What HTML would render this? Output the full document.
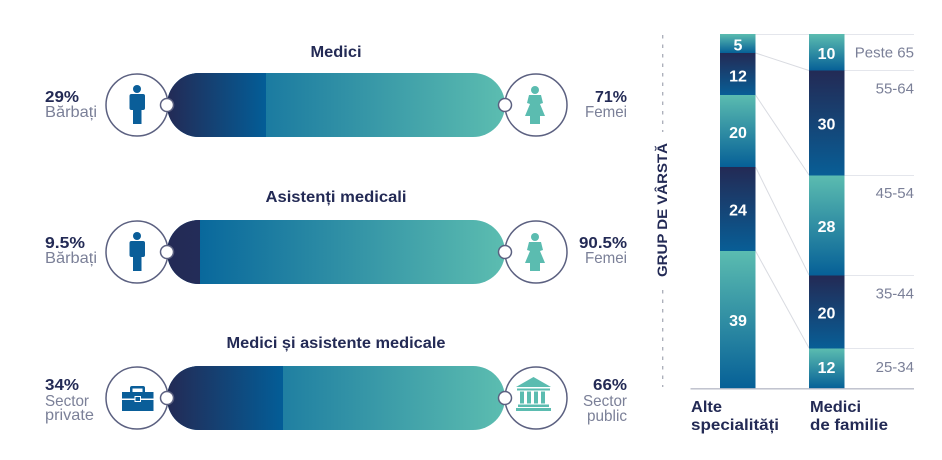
<!DOCTYPE html>
<html><head><meta charset="utf-8"><style>
html,body{margin:0;padding:0;background:#fff;}
svg{display:block;}
text{font-family:"Liberation Sans",sans-serif;}
.t{font-weight:bold;fill:#232a55;font-size:16px;}
.g{fill:#7b8098;font-size:16px;}
.w{fill:#fff;font-weight:bold;font-size:16px;text-anchor:middle;}
.a{fill:#7b8098;font-size:15px;text-anchor:end;}
</style></head><body>
<svg width="942" height="460" viewBox="0 0 942 460" xmlns="http://www.w3.org/2000/svg">
<defs>
<linearGradient id="dk" x1="0" y1="0" x2="1" y2="0"><stop offset="0" stop-color="#232a55"/><stop offset="1" stop-color="#035d97"/></linearGradient>
<linearGradient id="dk2" x1="0" y1="0" x2="1" y2="0"><stop offset="0" stop-color="#232a55"/><stop offset="1" stop-color="#232c58"/></linearGradient>
<linearGradient id="lt" gradientUnits="userSpaceOnUse" x1="167" y1="0" x2="505" y2="0"><stop offset="0" stop-color="#005f9a"/><stop offset="1" stop-color="#5cbdb0"/></linearGradient>
<linearGradient id="vt" x1="0" y1="0" x2="0" y2="1"><stop offset="0" stop-color="#5bbcb0"/><stop offset="1" stop-color="#066097"/></linearGradient>
<linearGradient id="vd" x1="0" y1="0" x2="0" y2="1"><stop offset="0" stop-color="#232a55"/><stop offset="1" stop-color="#085e96"/></linearGradient>
<clipPath id="c1"><rect x="167" y="73" width="338" height="64" rx="32"/></clipPath>
<clipPath id="c2"><rect x="167" y="220" width="338" height="64" rx="32"/></clipPath>
<clipPath id="c3"><rect x="167" y="366" width="338" height="64" rx="32"/></clipPath>
</defs>

<!-- Row 1 -->
<text class="t" x="336" y="57" text-anchor="middle" textLength="51" lengthAdjust="spacingAndGlyphs">Medici</text>
<g clip-path="url(#c1)">
<rect x="167" y="73" width="338" height="64" fill="url(#lt)"/>
<rect x="167" y="73" width="99" height="64" fill="url(#dk)"/>
</g>
<circle cx="137" cy="105" r="31" fill="#fff" stroke="#5b6080" stroke-width="1.5"/>
<circle cx="536" cy="105" r="31" fill="#fff" stroke="#5b6080" stroke-width="1.5"/>
<circle cx="167" cy="105" r="6.5" fill="#fff" stroke="#5b6080" stroke-width="1.5"/>
<circle cx="505" cy="105" r="6.5" fill="#fff" stroke="#5b6080" stroke-width="1.5"/>
<g fill="#0a5e99">
<circle cx="137" cy="89" r="4"/>
<rect x="129.5" y="94" width="15.5" height="16" rx="2"/>
<rect x="133" y="108" width="8.5" height="16"/>
</g>
<g fill="#5bbcb0">
<circle cx="535" cy="90" r="4"/>
<polygon points="529,95 541,95 543,103 540,104 545,116 540,116 540,124 530,124 530,116 525,116 530,104 527,103"/>
</g>
<text class="t" x="45" y="102" textLength="34" lengthAdjust="spacingAndGlyphs">29%</text>
<text class="g" x="45" y="117" textLength="52" lengthAdjust="spacingAndGlyphs">Bărbați</text>
<text class="t" x="627" y="102" text-anchor="end" textLength="32" lengthAdjust="spacingAndGlyphs">71%</text>
<text class="g" x="627" y="117" text-anchor="end" textLength="42" lengthAdjust="spacingAndGlyphs">Femei</text>

<!-- Row 2 -->
<text class="t" x="336" y="202" text-anchor="middle" textLength="141" lengthAdjust="spacingAndGlyphs">Asistenți medicali</text>
<g clip-path="url(#c2)">
<rect x="167" y="220" width="338" height="64" fill="url(#lt)"/>
<rect x="167" y="220" width="33" height="64" fill="url(#dk2)"/>
</g>
<circle cx="137" cy="252" r="31" fill="#fff" stroke="#5b6080" stroke-width="1.5"/>
<circle cx="536" cy="252" r="31" fill="#fff" stroke="#5b6080" stroke-width="1.5"/>
<circle cx="167" cy="252" r="6.5" fill="#fff" stroke="#5b6080" stroke-width="1.5"/>
<circle cx="505" cy="252" r="6.5" fill="#fff" stroke="#5b6080" stroke-width="1.5"/>
<g fill="#0a5e99">
<circle cx="137" cy="236" r="4"/>
<rect x="129.5" y="241" width="15.5" height="16" rx="2"/>
<rect x="133" y="255" width="8.5" height="16"/>
</g>
<g fill="#5bbcb0">
<circle cx="535" cy="237" r="4"/>
<polygon points="529,242 541,242 543,250 540,251 545,263 540,263 540,271 530,271 530,263 525,263 530,251 527,250"/>
</g>
<text class="t" x="45" y="248" textLength="40" lengthAdjust="spacingAndGlyphs">9.5%</text>
<text class="g" x="45" y="263" textLength="52" lengthAdjust="spacingAndGlyphs">Bărbați</text>
<text class="t" x="627" y="248" text-anchor="end" textLength="48" lengthAdjust="spacingAndGlyphs">90.5%</text>
<text class="g" x="627" y="263" text-anchor="end" textLength="42" lengthAdjust="spacingAndGlyphs">Femei</text>

<!-- Row 3 -->
<text class="t" x="336" y="348" text-anchor="middle" textLength="219" lengthAdjust="spacingAndGlyphs">Medici și asistente medicale</text>
<g clip-path="url(#c3)">
<rect x="167" y="366" width="338" height="64" fill="url(#lt)"/>
<rect x="167" y="366" width="116" height="64" fill="url(#dk)"/>
</g>
<circle cx="137" cy="398" r="31" fill="#fff" stroke="#5b6080" stroke-width="1.5"/>
<circle cx="536" cy="398" r="31" fill="#fff" stroke="#5b6080" stroke-width="1.5"/>
<circle cx="167" cy="398" r="6.5" fill="#fff" stroke="#5b6080" stroke-width="1.5"/>
<circle cx="505" cy="398" r="6.5" fill="#fff" stroke="#5b6080" stroke-width="1.5"/>
<g fill="#0a5e99">
<path d="M130,392 v-4 a2,2 0 0 1 2,-2 h11 a2,2 0 0 1 2,2 v4 h-2.5 v-3.5 h-10 v3.5 z"/>
<rect x="122" y="392" width="31.5" height="6.5"/>
<rect x="122" y="400" width="31.5" height="11"/>
<rect x="135" y="396.5" width="5.5" height="5" fill="#0a5e99" stroke="#fff" stroke-width="1"/>
</g>
<g fill="#5bbcb0">
<polygon points="533.5,377 551,387 516,387"/>
<rect x="517" y="388.5" width="33" height="2"/>
<rect x="520" y="391.5" width="4" height="12"/>
<rect x="527" y="391.5" width="4" height="12"/>
<rect x="534" y="391.5" width="4" height="12"/>
<rect x="541" y="391.5" width="4" height="12"/>
<rect x="518" y="404.5" width="31" height="2.5"/>
<rect x="516" y="408" width="35" height="3"/>
</g>
<text class="t" x="45" y="390" textLength="34" lengthAdjust="spacingAndGlyphs">34%</text>
<text class="g" x="45" y="406" textLength="44" lengthAdjust="spacingAndGlyphs">Sector</text>
<text class="g" x="45" y="420" textLength="49" lengthAdjust="spacingAndGlyphs">private</text>
<text class="t" x="627" y="390" text-anchor="end" textLength="34" lengthAdjust="spacingAndGlyphs">66%</text>
<text class="g" x="627" y="406" text-anchor="end" textLength="44" lengthAdjust="spacingAndGlyphs">Sector</text>
<text class="g" x="627" y="421" text-anchor="end" textLength="40" lengthAdjust="spacingAndGlyphs">public</text>

<!-- Right chart -->
<line x1="662.7" y1="35" x2="662.7" y2="132" stroke="#a9acb8" stroke-width="1.3" stroke-dasharray="3.5,6"/>
<line x1="662.7" y1="290" x2="662.7" y2="387" stroke="#a9acb8" stroke-width="1.3" stroke-dasharray="3.5,6"/>
<text class="t" transform="translate(667,277) rotate(-90)" textLength="134" lengthAdjust="spacingAndGlyphs" style="font-size:14px">GRUP DE VÂRSTĂ</text>

<g stroke="#e4e6ec" stroke-width="1">
<line x1="755" y1="34.5" x2="914" y2="34.5"/>
<line x1="844" y1="70.5" x2="914" y2="70.5"/>
<line x1="844" y1="175.5" x2="914" y2="175.5"/>
<line x1="844" y1="275.5" x2="914" y2="275.5"/>
<line x1="844" y1="348.5" x2="914" y2="348.5"/>
</g>
<g stroke="#d9dbe1" stroke-width="1">
<line x1="755.5" y1="53" x2="809" y2="70.5"/>
<line x1="755.5" y1="95" x2="809" y2="175"/>
<line x1="755.5" y1="167" x2="809" y2="275"/>
<line x1="755.5" y1="251" x2="809" y2="348"/>
</g>

<!-- bar 1 -->
<rect x="720" y="34" width="35.5" height="19" fill="url(#vt)"/>
<rect x="720" y="53" width="35.5" height="42" fill="url(#vd)"/>
<rect x="720" y="95" width="35.5" height="72" fill="url(#vt)"/>
<rect x="720" y="167" width="35.5" height="84" fill="url(#vd)"/>
<rect x="720" y="251" width="35.5" height="137.5" fill="url(#vt)"/>
<!-- bar 2 -->
<rect x="809" y="34" width="35.5" height="36.5" fill="url(#vt)"/>
<rect x="809" y="70.5" width="35.5" height="105" fill="url(#vd)"/>
<rect x="809" y="175.5" width="35.5" height="100" fill="url(#vt)"/>
<rect x="809" y="275.5" width="35.5" height="73" fill="url(#vd)"/>
<rect x="809" y="348.5" width="35.5" height="40" fill="url(#vt)"/>

<line x1="690.5" y1="388.8" x2="914" y2="388.8" stroke="#b9bcc8" stroke-width="1.3"/>

<text class="w" x="738" y="50.5">5</text>
<text class="w" x="738" y="81.5">12</text>
<text class="w" x="738" y="138">20</text>
<text class="w" x="738" y="215.5">24</text>
<text class="w" x="738" y="326">39</text>
<text class="w" x="826.5" y="59">10</text>
<text class="w" x="826.5" y="129.5">30</text>
<text class="w" x="826.5" y="232">28</text>
<text class="w" x="826.5" y="318.5">20</text>
<text class="w" x="826.5" y="373">12</text>

<text class="a" x="914" y="57.5">Peste 65</text>
<text class="a" x="914" y="93.5">55-64</text>
<text class="a" x="914" y="198">45-54</text>
<text class="a" x="914" y="298.5">35-44</text>
<text class="a" x="914" y="372">25-34</text>

<text class="t" x="691" y="412" textLength="31" lengthAdjust="spacingAndGlyphs">Alte</text>
<text class="t" x="691" y="430" textLength="88" lengthAdjust="spacingAndGlyphs">specialități</text>
<text class="t" x="810" y="412" textLength="51" lengthAdjust="spacingAndGlyphs">Medici</text>
<text class="t" x="810" y="430" textLength="78" lengthAdjust="spacingAndGlyphs">de familie</text>
</svg>
</body></html>
